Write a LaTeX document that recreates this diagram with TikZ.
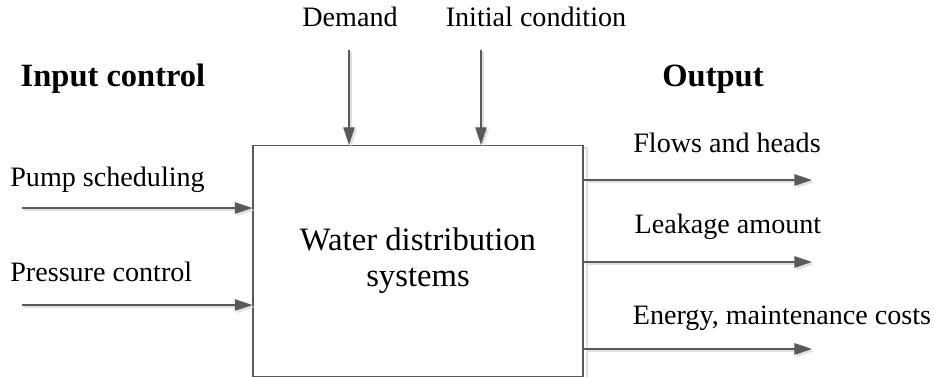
\documentclass[tikz,border=0pt]{standalone}
\usepackage{fontspec}
\setmainfont{Liberation Serif}
\usetikzlibrary{arrows.meta,positioning}

\tikzset{flow/.style={draw=black!65,line width=0.7pt,-{Triangle[length=10pt,width=6.5pt]},
    preaction={draw=black!12,line width=1pt,transform canvas={xshift=1.2pt,yshift=-1.2pt}}},
  lbl/.style={font=\fontsize{16}{18}\selectfont,inner sep=0pt},
  head/.style={font=\fontsize{18.5}{20}\selectfont\bfseries,inner sep=0pt}}

\begin{document}
\begin{tikzpicture}[x=0.02cm,y=-0.02cm]
        \useasboundingbox (0,0) rectangle (934,377);
        % the system block
        \draw[black!12,line width=1.2pt] (257,148) rectangle (587,379);
        \node[draw=black!65,line width=0.7pt,fill=white,minimum width=6.6cm,minimum height=4.62cm,
            align=center,font=\fontsize{18.6}{20.5}\selectfont] (wds) at (418,261) {Water distribution\\systems};
        % headings
        \node[head] (inhead) at (113,79) {Input control};
        \node[head] (outhead) at (713,79) {Output};
        % disturbances from above
        \node[lbl] (demand) at (350,17) {Demand};
        \node[lbl] (init) at (536,17) {Initial condition};
        \coordinate (d0) at (349,50);
        \coordinate (i0) at (481,50);
        \draw[flow] (d0) -- (d0 |- wds.north);
        \draw[flow] (i0) -- (i0 |- wds.north);
        % control inputs
        \node[lbl,anchor=west] (pump) at (10,180) {Pump scheduling};
        \node[lbl,anchor=west] (press) at (10,272) {Pressure control};
        \coordinate (p0) at (22,208);
        \coordinate (q0) at (22,305);
        \draw[flow] (p0) -- (p0 -| wds.west);
        \draw[flow] (q0) -- (q0 -| wds.west);
        % outputs
        \node[lbl] (flows) at (727,143) {Flows and heads};
        \node[lbl] (leak) at (728,227) {Leakage amount};
        \node[lbl] (cost) at (782,318) {Energy, maintenance costs};
        \coordinate (o1) at (812,180);
        \coordinate (o2) at (812,262);
        \coordinate (o3) at (812,349);
        \draw[flow] (o1 -| wds.east) -- (o1);
        \draw[flow] (o2 -| wds.east) -- (o2);
        \draw[flow] (o3 -| wds.east) -- (o3);
    \end{tikzpicture}
\end{document}
